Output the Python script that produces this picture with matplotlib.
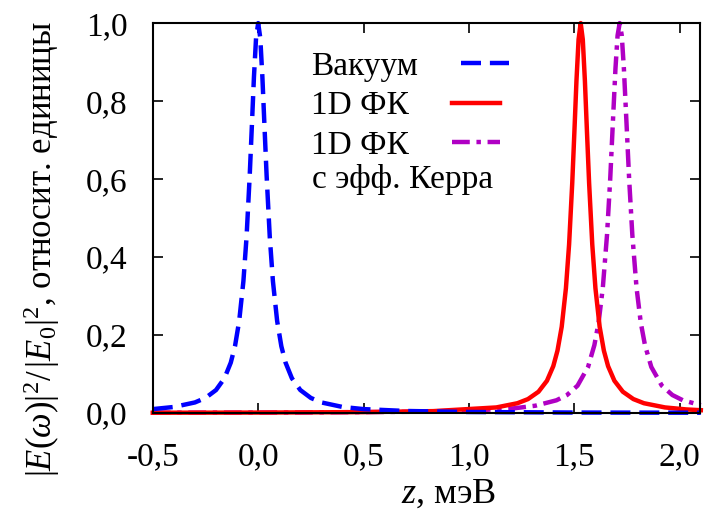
import matplotlib
matplotlib.use('Agg')
import matplotlib.pyplot as plt
from matplotlib.ticker import FuncFormatter

plt.rcParams['font.family'] = ['Liberation Serif', 'DejaVu Serif']
plt.rcParams['mathtext.fontset'] = 'custom'
plt.rcParams['mathtext.rm'] = 'Liberation Serif'
plt.rcParams['mathtext.it'] = 'Liberation Serif:italic'

# vacuum spectrum
vac_z = [-0.5, -0.4, -0.3, -0.25, -0.2, -0.16, -0.13, -0.11, -0.09, -0.07, -0.055, -0.04,
         -0.03, -0.02, -0.01, 0.0, 0.01, 0.02, 0.03, 0.04, 0.055, 0.07, 0.09, 0.11, 0.13,
         0.16, 0.2, 0.25, 0.3, 0.4, 0.5, 0.7, 1.0, 1.5, 2.1]
vac_i = [0.0099, 0.0154, 0.027, 0.0385, 0.0588, 0.089, 0.129, 0.171, 0.236, 0.338, 0.452, 0.61,
         0.735, 0.862, 0.962, 1.0, 0.962, 0.862, 0.735, 0.61, 0.452, 0.338, 0.236, 0.171, 0.129,
         0.089, 0.0588, 0.0385, 0.027, 0.0154, 0.0099, 0.0051, 0.0025, 0.0011, 0.0006]

# 1D photonic crystal
pc_z = [-0.5, 0.0, 0.5, 0.83, 1.13, 1.23, 1.28, 1.33, 1.37, 1.40, 1.42, 1.44, 1.46, 1.475,
        1.49, 1.50, 1.51, 1.52, 1.53, 1.54, 1.55, 1.56, 1.57, 1.585, 1.60, 1.62, 1.64, 1.66,
        1.69, 1.73, 1.78, 1.83, 1.93, 2.03, 2.1]
pc_i = [0.0006, 0.001, 0.0022, 0.0047, 0.0142, 0.025, 0.0356, 0.0545, 0.0826, 0.120, 0.160,
        0.221, 0.320, 0.432, 0.590, 0.719, 0.852, 0.958, 1.0, 0.958, 0.852, 0.719, 0.590,
        0.432, 0.320, 0.221, 0.160, 0.120, 0.0826, 0.0545, 0.0356, 0.025, 0.0142, 0.0091,
        0.0071]

# 1D photonic crystal with Kerr effect
kerr_z = [-0.5, 0.2, 0.715, 1.015, 1.215, 1.315, 1.415, 1.465, 1.515, 1.565, 1.595, 1.615,
          1.635, 1.655, 1.67, 1.685, 1.695, 1.705, 1.715, 1.725, 1.735, 1.745, 1.76, 1.775,
          1.795, 1.815, 1.835, 1.865, 1.915, 1.965, 2.015, 2.1]
kerr_i = [0.0006, 0.0013, 0.003, 0.0061, 0.012, 0.0186, 0.0325, 0.046, 0.070, 0.118, 0.174,
          0.232, 0.321, 0.457, 0.599, 0.771, 0.883, 0.968, 1.0, 0.968, 0.883, 0.771, 0.599,
          0.457, 0.321, 0.232, 0.174, 0.118, 0.070, 0.046, 0.0325, 0.020]

x_ticks = [-0.5, 0.0, 0.5, 1.0, 1.5, 2.0]
y_ticks = [0.0, 0.2, 0.4, 0.6, 0.8, 1.0]

fig = plt.figure(figsize=(7.04, 5.13), dpi=100)
ax = fig.add_axes([0.217, 0.195, 0.777, 0.76])

lk, = ax.plot(kerr_z, kerr_i, color='#b000c4', lw=3.2, dashes=(4, 1.5, 1, 1.5),
              clip_on=False, label='1D ФК')
lp, = ax.plot(pc_z, pc_i, color='#ff0000', lw=3.2, clip_on=False, label='1D ФК')
lv, = ax.plot(vac_z, vac_i, color='#0000ff', lw=3.2, dashes=(4.5, 2), clip_on=False,
              label='Вакуум')

ax.set_xlim(-0.5, 2.095)
ax.set_ylim(0, 1.0)
ax.set_xticks(x_ticks)
ax.set_yticks(y_ticks)
comma = FuncFormatter(lambda v, p: f'{v:.1f}'.replace('.', ','))
ax.xaxis.set_major_formatter(comma)
ax.yaxis.set_major_formatter(comma)
ax.tick_params(direction='in', length=7, width=1.2, top=True, right=True,
               labelsize=24)
ax.tick_params(axis='x', pad=21)
ax.tick_params(axis='y', pad=18)
for s in ax.spines.values():
    s.set_linewidth(1.5)

ax.set_xlabel(r'$z$, мэВ', fontsize=26)
ax.xaxis.set_label_coords(0.54, -0.165)
ax.set_ylabel(r'$|E(\omega)|^2/\,|E_0|^2$, относит. единицы', fontsize=25)
ax.yaxis.set_label_coords(-0.166, 0.42)

leg = ax.legend(handles=[lv, lp, lk], loc='upper left', bbox_to_anchor=(0.258, 0.97),
                frameon=False, markerfirst=False, fontsize=24, handlelength=1.45,
                handletextpad=1.3, labelspacing=0.27, borderpad=0)
# keep labels flush left, handles follow each label
leg._legend_handle_box.get_children()[0].align = 'left'
ax.text(0.291, 0.60, 'с эфф. Керра', transform=ax.transAxes, fontsize=24,
        ha='left', va='center')

fig.savefig('out.png', dpi=100)
